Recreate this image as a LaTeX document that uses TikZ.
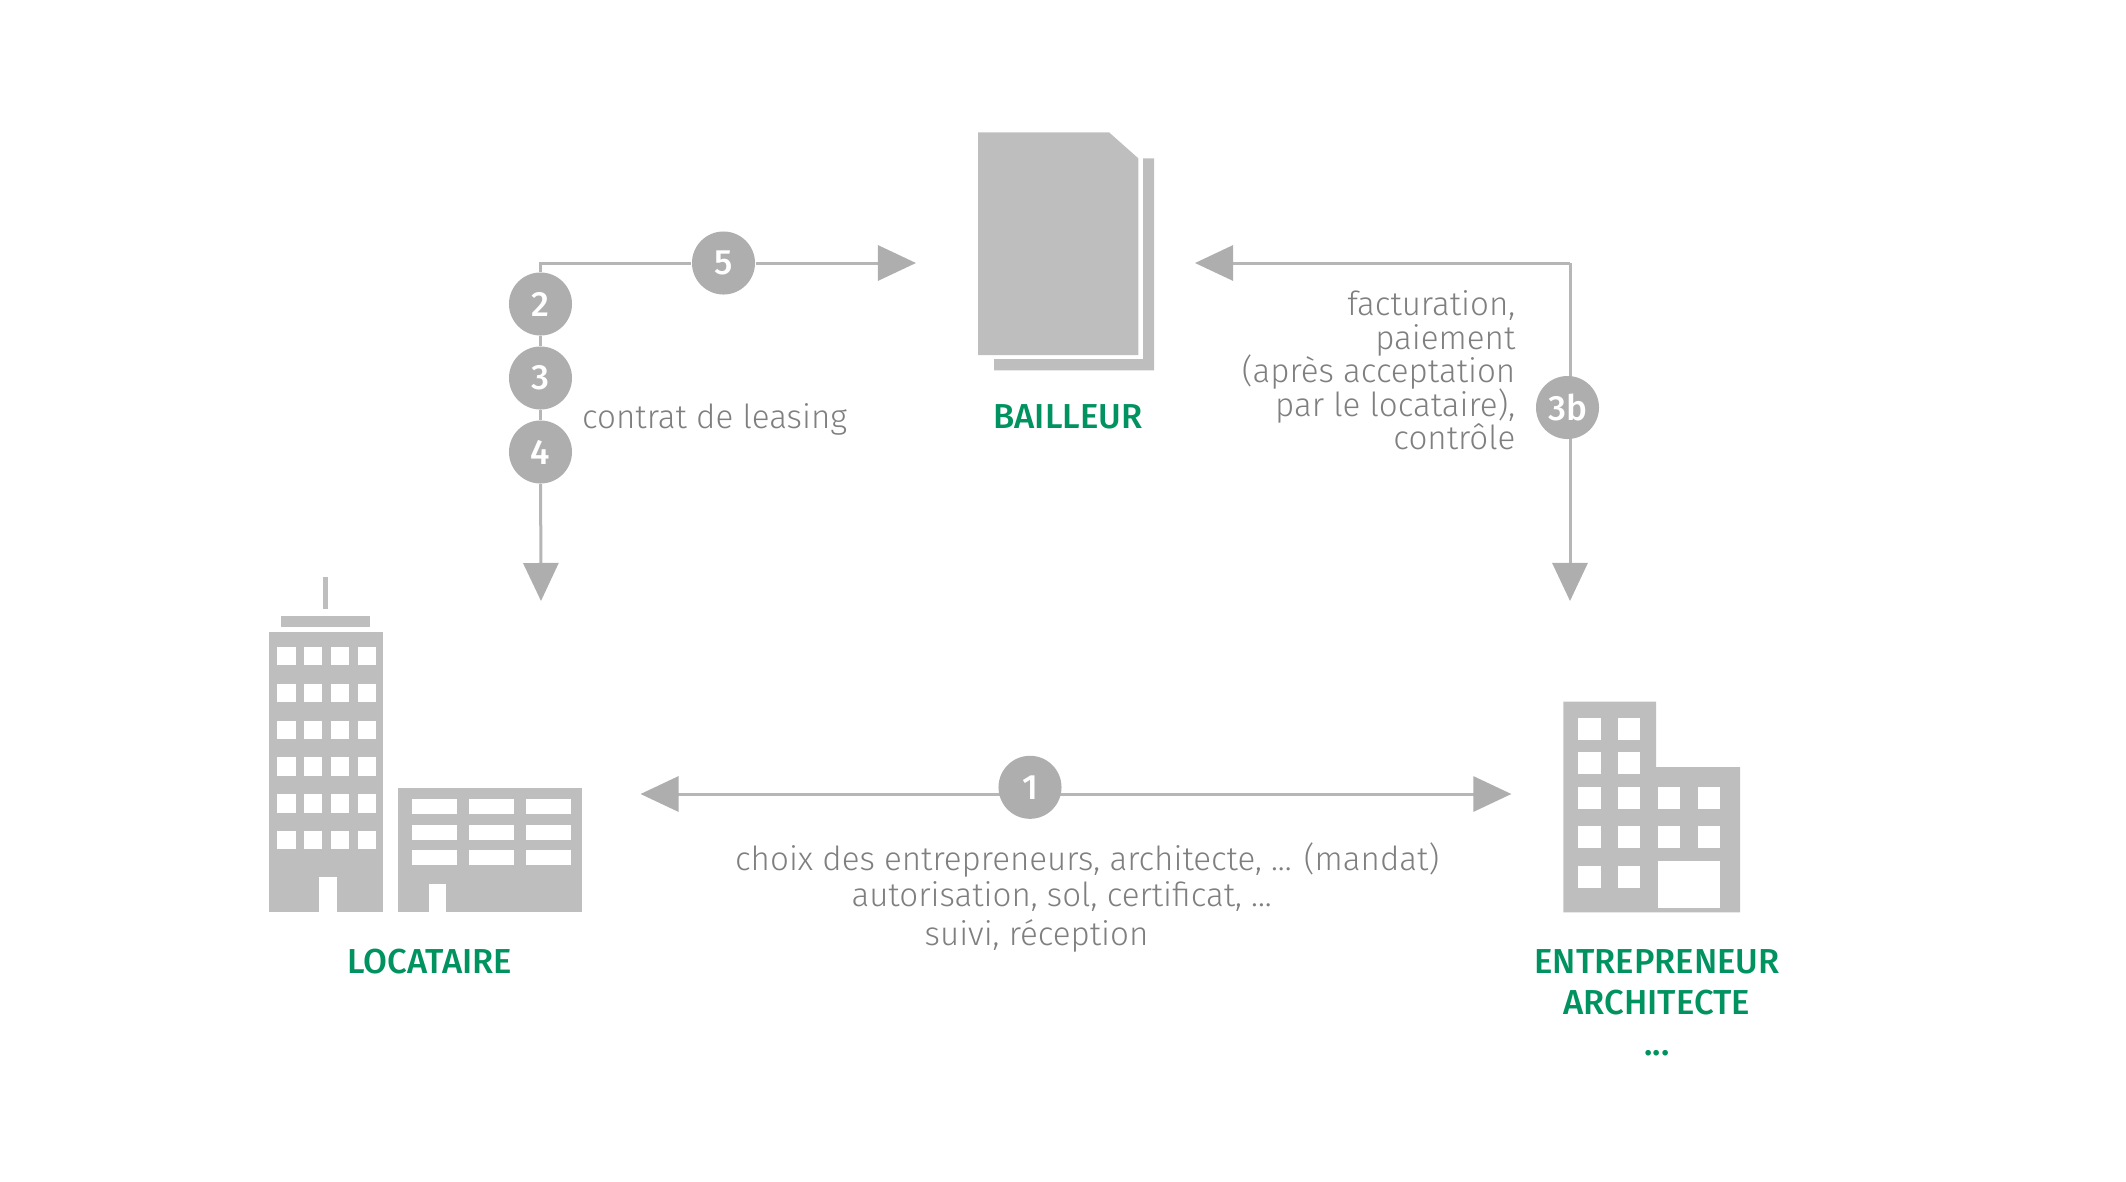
\documentclass[tikz,border=0pt]{standalone}
\usepackage{fontspec}
\setmainfont{Fira Sans}[UprightFont=* Light,BoldFont=* Medium]
\newcommand{\notefont}{\fontsize{9.42}{9.5}\selectfont\lineskiplimit=-10pt\relax}
\usetikzlibrary{arrows.meta}
\definecolor{shapegrey}{HTML}{BEBEBE}
\definecolor{markgrey}{HTML}{AEAEAE}
\definecolor{linegrey}{HTML}{B6B6B6}
\definecolor{textgrey}{HTML}{7F7F7F}
\definecolor{namegreen}{HTML}{00925F}
\begin{document}
\begin{tikzpicture}[x=0.01cm,y=-0.01cm]
        \tikzstyle{flow}=[draw=linegrey,line width=0.03cm]
        \tikzstyle{oneway}=[flow,-{Triangle[length=0.38cm,width=0.35cm,color=markgrey]}]
        \tikzstyle{twoway}=[flow,{Triangle[length=0.38cm,width=0.35cm,color=markgrey]}-{Triangle[length=0.38cm,width=0.35cm,color=markgrey]}]
        \tikzstyle{stepmark}=[circle,fill=markgrey,text=white,minimum size=0.63cm,inner sep=0pt,font=\fontsize{10}{10}\bfseries\selectfont]
        \tikzstyle{party}=[text=namegreen,inner sep=0pt,anchor=base,font=\fontsize{9.85}{12}\bfseries\selectfont]
        \tikzstyle{note}=[text=textgrey,inner sep=0pt,font=\notefont]
        \useasboundingbox (0,0) rectangle (2126,1181);
        % tower
        \fill[shapegrey] (323,577) rectangle (328,609);
        \fill[shapegrey] (281,616) rectangle (370,627);
        \fill[shapegrey] (269,632) rectangle (383,912);
        \foreach \wx in {277.3,304,330.7,358}
          \foreach \wy in {647,684,720.7,757.3,794.3,831}
            \fill[white] (\wx,\wy) rectangle ++(18.3,18.3);
        \fill[white] (318.7,877.3) rectangle (336.7,912);
        % low block
        \fill[shapegrey] (398,788) rectangle (582,912);
        \foreach \wx in {412,469,526}
          \foreach \wy in {799.3,825,850.3}
            \fill[white] (\wx,\wy) rectangle ++(44.7,14.6);
        \fill[white] (428.7,883.7) rectangle (446,912);
        % office
        \fill[shapegrey] (1563.3,701.7) -- (1656,701.7) -- (1656,767) -- (1740,767) -- (1740,912.3) -- (1563.3,912.3) -- cycle;
        \foreach \wx in {1578.3,1618}
          \foreach \wy in {717.7,752.3,787,826.3,865.7}
            \fill[white] (\wx,\wy) rectangle ++(22.3,22);
        \foreach \wx in {1658,1698}
          \foreach \wy in {787,826.3}
            \fill[white] (\wx,\wy) rectangle ++(22,22);
        \fill[white] (1658,861) rectangle (1720,908);
        % papers
        \fill[shapegrey] (994,359) -- (1143,359) -- (1143,158.3) -- (1154,158.3) -- (1154,370.3) -- (994,370.3) -- cycle;
        \fill[shapegrey] (978,132.3) -- (1109,132.3) -- (1138.3,158.3) -- (1138.3,355) -- (978,355) -- cycle;
        % free ends
        \coordinate (locdown) at (541,601);
        \coordinate (bailright) at (916,263);
        \coordinate (bailleft) at (1195,263);
        \coordinate (bailcorner) at (1570,263);
        \coordinate (entdown) at (1570,601);
        \coordinate (locleft) at (640.5,794);
        \coordinate (entright) at (1511.4,794);
        % steps
        \node [stepmark] (s2) at (540.5,304) {2};
        \node [stepmark] (s3) at (540.5,378) {3};
        \node [stepmark] (s4) at (540.5,452) {4};
        \node [stepmark] (s5) at (723.5,263) {5};
        % connectors
        \path[flow] (s2) -- (s3);
        \path[flow] (s3) -- (s4);
        \path[oneway] (s4) -- (locdown);
        \path[flow] (s2) |- (s5);
        \path[oneway] (s5) -- (bailright);
        \path[oneway] (bailcorner) -- (bailleft);
        \path[oneway] (bailcorner) -- (entdown);
        \path[twoway] (locleft) -- (entright);
        \node [stepmark] (s3b) at (1567.5,407.5) {3b};
        \node [stepmark] (s1) at (1030,787.3) {1};
        % names
        \node [party] (locataire) at (430,973) {LOCATAIRE};
        \node [party] (bailleur) at (1068,428.3) {BAILLEUR};
        \node [party] (entrepreneur) at (1657,973) {ENTREPRENEUR};
        \node [party] (architecte) at (1657,1014) {ARCHITECTE};
        \node [party] (etc) at (1657,1055) {...};
        % notes
        \node [note,anchor=base west] (leasing) at (581.5,428) {contrat de leasing};
        \node [note,anchor=east,align=right] (billing) at (1516,370.5) {facturation,\\paiement\\(après acceptation\\par le locataire),\\contrôle};
        \node [note,anchor=base west] (choice) at (734.5,870.3) {choix des entrepreneurs, architecte, ... (mandat)};
        \node [note,anchor=base west] (permit) at (850.8,906) {autorisation, sol, certificat, ...};
        \node [note,anchor=base west] (followup) at (924,945) {suivi, réception};
\end{tikzpicture}
\end{document}
